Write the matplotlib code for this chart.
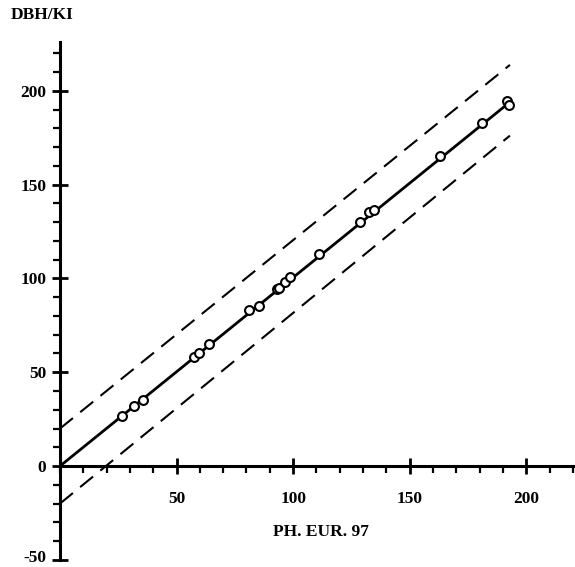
import numpy as np
import matplotlib.pyplot as plt
from matplotlib.ticker import MultipleLocator
from matplotlib.transforms import ScaledTranslation

plt.rcParams["font.family"] = ["Liberation Serif", "DejaVu Serif"]
plt.rcParams["font.weight"] = "bold"
plt.rcParams["axes.unicode_minus"] = False

# measured pairs (PH. EUR. 97 vs DBH/KI)
ph_eur = [26.5, 31.8, 35.5, 57.6, 59.6, 64.1, 81.2, 85.5, 93.0, 94.1,
          96.6, 98.7, 111.3, 128.8, 132.7, 134.8, 163.1, 181.0, 191.7, 192.7]
dbh_ki = [26.5, 31.8, 35.3, 58.0, 60.1, 64.9, 83.0, 85.5, 94.3, 95.0,
          98.2, 100.9, 112.9, 130.1, 135.5, 136.7, 165.0, 182.8, 194.4, 192.6]

# regression line and limits: (intercept, slope)
fit_line = (0.0, 1.005)
upper_lim = (20.0, 1.004)
lower_lim = (-20.0, 1.016)
line_x = [0.0, 193.0]

fig = plt.figure(figsize=(5.75, 5.67), dpi=100)
ax = fig.add_axes([0.1043, 0.0125, 0.892, 0.9135])
ax.set_xlim(0, 220)
ax.set_ylim(-50, 226)

xs = np.array(line_x)
ax.plot(xs, fit_line[0] + fit_line[1] * xs, color="black", lw=2.0, zorder=2)
for b, m in (upper_lim, lower_lim):
    ax.plot(xs, b + m * xs, color="black", lw=1.5, dashes=(8, 4.5), zorder=2)

ax.plot(ph_eur, dbh_ki, "o", ms=6.4, mfc="white", mec="black", mew=1.5,
        zorder=3, clip_on=False)

for s in ("top", "right"):
    ax.spines[s].set_visible(False)
ax.spines["bottom"].set_position(("data", 0))
ax.spines["left"].set_position(("data", 0))
for s in ("bottom", "left"):
    ax.spines[s].set_linewidth(2.2)

ax.xaxis.set_minor_locator(MultipleLocator(10))
ax.yaxis.set_minor_locator(MultipleLocator(10))
ax.set_xticks([50, 100, 150, 200])
ax.set_yticks([-50, 0, 50, 100, 150, 200])

ax.tick_params(axis="both", which="major", direction="inout", length=12,
               width=2.0, labelsize=12.5)
ax.tick_params(axis="both", which="minor", direction="out", length=5,
               width=1.6)
ax.tick_params(axis="x", which="major", pad=12)
ax.tick_params(axis="y", which="major", pad=4)
for lab in ax.get_xticklabels() + ax.get_yticklabels():
    lab.set_fontweight("bold")

# keep the bottom label inside the canvas
fig.canvas.draw()
ylabs = ax.get_yticklabels()
ylabs[0].set_transform(ylabs[0].get_transform()
                       + ScaledTranslation(0, 3 / 72, fig.dpi_scale_trans))

fig.text(0.018, 0.973, "DBH/KI", fontsize=12.5, fontweight="bold",
         ha="left", va="center")
ax.text(112, -35, "PH. EUR. 97", fontsize=12.5, fontweight="bold",
        ha="center", va="center")

fig.savefig("out.png", dpi=100)
